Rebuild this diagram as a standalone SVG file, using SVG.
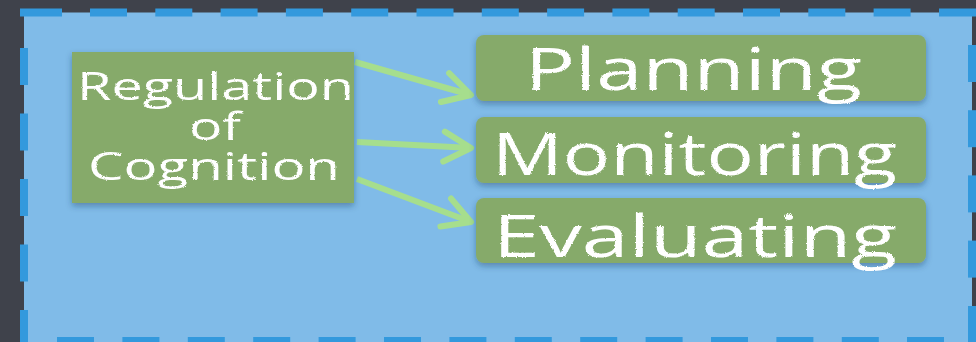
<svg xmlns="http://www.w3.org/2000/svg" width="976" height="342" viewBox="0 0 976 342">
  <defs>
    <style>
      .dash { fill: #3399dd; }
      .box { fill: #86aa6b; filter: url(#shadow); }
      .label { fill: #ffffff; font-family: "Open Sans", "DejaVu Sans", sans-serif; filter: url(#chalk); }
      .small { font-size: 38px; }
      .big { font-size: 58px; }
      .link { fill: none; stroke: #a6de8d; stroke-width: 6; marker-end: url(#chevron); }
    </style>
    <filter id="shadow" x="-10%" y="-10%" width="120%" height="135%">
      <feDropShadow dx="0" dy="3" stdDeviation="3" flood-color="#1d3a5a" flood-opacity="0.4"/>
    </filter>
    <filter id="chalk" x="-5%" y="-10%" width="110%" height="120%">
      <feTurbulence type="fractalNoise" baseFrequency="0.9" numOctaves="2" seed="4" result="noise"/>
      <feDisplacementMap in="SourceGraphic" in2="noise" scale="2.5" xChannelSelector="R" yChannelSelector="G"/>
    </filter>
    <marker id="chevron" markerUnits="userSpaceOnUse" viewBox="-34 -22 40 44" markerWidth="40" markerHeight="44" refX="0" refY="0" orient="auto" overflow="visible">
      <path d="M -27 -15 L 0 0 L -27 15" fill="none" stroke="#a6de8d" stroke-width="6" stroke-linecap="round" stroke-linejoin="round"/>
    </marker>
  </defs>

  <!-- slate backdrop -->
  <rect x="0" y="0" width="976" height="342" fill="#3f424b"/>

  <!-- container fill -->
  <rect x="24" y="12.5" width="948" height="335" fill="#80bbe8"/>

  <!-- dashed container border, one rect per dash -->
  <g id="frame-dashes">
    <!-- top edge -->
    <rect class="dash" x="20" y="8.5" width="42" height="8"/>
    <rect class="dash" x="90" y="8.5" width="37" height="8"/>
    <rect class="dash" x="155.3" y="8.5" width="37" height="8"/>
    <rect class="dash" x="220.6" y="8.5" width="37" height="8"/>
    <rect class="dash" x="285.9" y="8.5" width="37" height="8"/>
    <rect class="dash" x="351.2" y="8.5" width="37" height="8"/>
    <rect class="dash" x="416.5" y="8.5" width="37" height="8"/>
    <rect class="dash" x="481.8" y="8.5" width="37" height="8"/>
    <rect class="dash" x="547.1" y="8.5" width="37" height="8"/>
    <rect class="dash" x="612.4" y="8.5" width="37" height="8"/>
    <rect class="dash" x="677.7" y="8.5" width="37" height="8"/>
    <rect class="dash" x="743" y="8.5" width="37" height="8"/>
    <rect class="dash" x="808.3" y="8.5" width="37" height="8"/>
    <rect class="dash" x="873.6" y="8.5" width="37" height="8"/>
    <rect class="dash" x="939" y="8.5" width="37" height="8"/>
    <!-- right edge -->
    <rect class="dash" x="968" y="45" width="8" height="37"/>
    <rect class="dash" x="968" y="110.2" width="8" height="37"/>
    <rect class="dash" x="968" y="175.4" width="8" height="37"/>
    <rect class="dash" x="968" y="240.6" width="8" height="37"/>
    <rect class="dash" x="968" y="306" width="8" height="37"/>
    <!-- bottom edge -->
    <rect class="dash" x="57" y="337" width="37" height="8"/>
    <rect class="dash" x="122.4" y="337" width="37" height="8"/>
    <rect class="dash" x="187.8" y="337" width="37" height="8"/>
    <rect class="dash" x="253.2" y="337" width="37" height="8"/>
    <rect class="dash" x="318.6" y="337" width="37" height="8"/>
    <rect class="dash" x="384" y="337" width="37" height="8"/>
    <rect class="dash" x="449.4" y="337" width="37" height="8"/>
    <rect class="dash" x="514.8" y="337" width="37" height="8"/>
    <rect class="dash" x="580.2" y="337" width="37" height="8"/>
    <rect class="dash" x="645.6" y="337" width="37" height="8"/>
    <rect class="dash" x="711" y="337" width="37" height="8"/>
    <rect class="dash" x="776.4" y="337" width="37" height="8"/>
    <rect class="dash" x="841.8" y="337" width="37" height="8"/>
    <rect class="dash" x="907" y="337" width="37" height="8"/>
    <!-- left edge -->
    <rect class="dash" x="20" y="48" width="8" height="37"/>
    <rect class="dash" x="20" y="113.5" width="8" height="37"/>
    <rect class="dash" x="20" y="179" width="8" height="37"/>
    <rect class="dash" x="20" y="244.5" width="8" height="37"/>
    <rect class="dash" x="20" y="310" width="8" height="37"/>
  </g>

  <!-- connectors -->
  <g id="connectors">
    <path class="link" d="M 355 62 L 471 95"/>
    <path class="link" d="M 357 142 L 471 148"/>
    <path class="link" d="M 357 179 L 471 222"/>
  </g>

  <g id="regulation">
    <rect class="box" x="72" y="52" width="282" height="151"/>
    <text class="label small" x="77" y="100" textLength="277" lengthAdjust="spacingAndGlyphs">Regulation</text>
    <text class="label small" x="189" y="140" textLength="52" lengthAdjust="spacingAndGlyphs">of</text>
    <text class="label small" x="88" y="180" textLength="252" lengthAdjust="spacingAndGlyphs">Cognition</text>
  </g>

  <g id="planning">
    <rect class="box" x="476" y="35" width="450" height="66" rx="8"/>
    <text class="label big" x="525" y="90" textLength="337" lengthAdjust="spacingAndGlyphs">Planning</text>
  </g>

  <g id="monitoring">
    <rect class="box" x="476" y="117" width="450" height="66" rx="8"/>
    <text class="label big" x="492" y="175" textLength="405" lengthAdjust="spacingAndGlyphs">Monitoring</text>
  </g>

  <g id="evaluating">
    <rect class="box" x="476" y="198" width="450" height="65" rx="8"/>
    <text class="label big" x="493" y="257" textLength="404" lengthAdjust="spacingAndGlyphs">Evaluating</text>
  </g>
</svg>
